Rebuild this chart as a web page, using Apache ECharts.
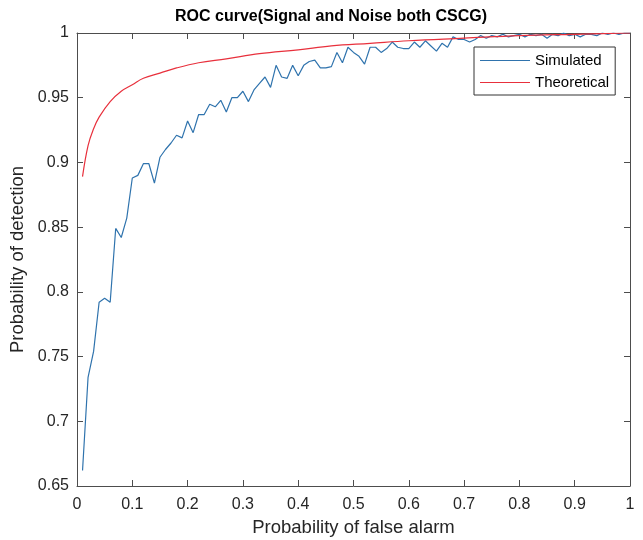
<!DOCTYPE html>
<html><head><meta charset="utf-8">
<script src="https://cdn.jsdelivr.net/npm/echarts@6/dist/echarts.min.js"></script>
<style>html,body{margin:0;padding:0;background:#fff}#c{width:643px;height:540px}</style>
</head><body><div id="c"></div>
<script>
const simPf = [0.01,0.02,0.03,0.04,0.05,0.06,0.07,0.08,0.09,0.10,
0.11,0.12,0.13,0.14,0.15,0.16,0.17,0.18,0.19,0.20,
0.21,0.22,0.23,0.24,0.25,0.26,0.27,0.28,0.29,0.30,
0.31,0.32,0.33,0.34,0.35,0.36,0.37,0.38,0.39,0.40,
0.41,0.42,0.43,0.44,0.45,0.46,0.47,0.48,0.49,0.50,
0.51,0.52,0.53,0.54,0.55,0.56,0.57,0.58,0.59,0.60,
0.61,0.62,0.63,0.64,0.65,0.66,0.67,0.68,0.69,0.70,
0.71,0.72,0.73,0.74,0.75,0.76,0.77,0.78,0.79,0.80,
0.81,0.82,0.83,0.84,0.85,0.86,0.87,0.88,0.89,0.90,
0.91,0.92,0.93,0.94,0.95,0.96,0.97,0.98,0.99,1.00];
const simPd = [0.662,0.734,0.754,0.792,0.795,0.792,0.849,0.842,0.857,0.888,
0.890,0.899,0.899,0.884,0.904,0.910,0.915,0.921,0.919,0.932,
0.923,0.937,0.937,0.945,0.943,0.948,0.939,0.950,0.950,0.955,
0.947,0.956,0.961,0.966,0.958,0.975,0.966,0.965,0.975,0.967,
0.975,0.978,0.979,0.973,0.973,0.974,0.985,0.977,0.989,0.985,
0.982,0.976,0.989,0.989,0.985,0.988,0.993,0.989,0.988,0.988,
0.993,0.989,0.994,0.990,0.986,0.992,0.989,0.997,0.995,0.995,
0.993,0.995,0.998,0.996,0.998,0.997,0.999,0.997,0.998,0.999,
0.997,0.999,0.998,0.999,0.996,0.999,0.998,1.000,0.998,0.999,
0.997,0.999,0.999,0.998,1.000,0.999,1.000,0.999,1.000,1.000];
const theoPf = [0.01,0.02,0.03,0.04,0.06,0.08,0.10,0.12,0.15,0.18,0.22,0.27,0.33,0.40,0.46,0.53,0.60,0.70,0.80,0.90,1.00];
const theoPd = [0.889,0.913,0.926,0.935,0.947,0.955,0.960,0.965,0.969,0.973,0.977,0.980,0.984,0.987,0.990,0.992,0.994,0.996,0.998,0.999,1.000];
const xTicks = ['0','0.1','0.2','0.3','0.4','0.5','0.6','0.7','0.8','0.9','1'];
const yTicks = ['0.65','0.7','0.75','0.8','0.85','0.9','0.95','1'];

const FONT = '"Liberation Sans", Arial, sans-serif';
const axisCol = '#4d4d4d';
const txtCol = '#262626';
const chart = echarts.init(document.getElementById('c'), null, {renderer:'canvas'});
const zip = (a,b) => a.map((v,i)=>[v,b[i]]);
const gridRect = {left:77,right:13,top:33,bottom:54,show:false,containLabel:false,outerBoundsMode:'none'};
const tickAxisX = (pos) => ({gridIndex:1,type:'value',min:0,max:1,interval:0.1,position:pos,
    axisLine:{show:true,onZero:false,lineStyle:{color:axisCol}},
    axisTick:{show:true,inside:true,length:6,lineStyle:{color:axisCol}},
    axisLabel:{show:false},splitLine:{show:false}});
const tickAxisY = (pos) => ({gridIndex:1,type:'value',min:0.65,max:1,interval:0.05,position:pos,
    axisLine:{show:true,onZero:false,lineStyle:{color:axisCol}},
    axisTick:{show:true,inside:true,length:6,lineStyle:{color:axisCol}},
    axisLabel:{show:false},splitLine:{show:false}});
chart.setOption({
  animation:false,
  backgroundColor:'#fff',
  title:{text:'ROC curve(Signal and Noise both CSCG)', left:170, top:4,
    textStyle:{fontFamily:FONT,fontSize:16,fontWeight:'bold',color:'#000'}},
  grid:[Object.assign({},gridRect), Object.assign({},gridRect)],
  legend:{orient:'vertical', left:474, top:47, itemWidth:50, itemHeight:1.2, itemGap:7,
    icon:'rect', padding:[6,6,5,6], borderColor:'#333', borderWidth:1, backgroundColor:'#fff',
    textStyle:{fontFamily:FONT,fontSize:15,color:'#000',lineHeight:15},
    data:['Simulated','Theoretical']},
  xAxis:[{gridIndex:0,type:'value',min:0,max:1,interval:0.1,position:'bottom',
    name:'Probability of false alarm',nameLocation:'middle',nameGap:32,
    nameTextStyle:{fontFamily:FONT,fontSize:18.5,color:txtCol},
    axisLine:{show:false,onZero:false},axisTick:{show:false},
    axisLabel:{fontFamily:FONT,fontSize:16,color:txtCol,margin:11,formatter:v=>xTicks[Math.round(v*10)]},
    splitLine:{show:false}},
    tickAxisX('bottom'), tickAxisX('top')],
  yAxis:[{gridIndex:0,type:'value',min:0.65,max:1,interval:0.05,position:'left',
    name:'Probability of detection',nameLocation:'middle',nameGap:44,
    nameTextStyle:{fontFamily:FONT,fontSize:18.5,color:txtCol},
    axisLine:{show:false,onZero:false},axisTick:{show:false},
    axisLabel:{fontFamily:FONT,fontSize:16,color:txtCol,margin:8,formatter:v=>yTicks[Math.round((v-0.65)/0.05)]},
    splitLine:{show:false}},
    tickAxisY('left'), tickAxisY('right')],
  series:[
    {name:'Simulated',type:'line',xAxisIndex:0,yAxisIndex:0,data:zip(simPf,simPd),symbol:'none',
      lineStyle:{color:'#2f73ad',width:1.2},itemStyle:{color:'#2f73ad'}},
    {name:'Theoretical',type:'line',xAxisIndex:0,yAxisIndex:0,data:zip(theoPf,theoPd),symbol:'none',smooth:0.4,
      lineStyle:{color:'#e8303c',width:1.2},itemStyle:{color:'#e8303c'}}
  ]
});
</script></body></html>
